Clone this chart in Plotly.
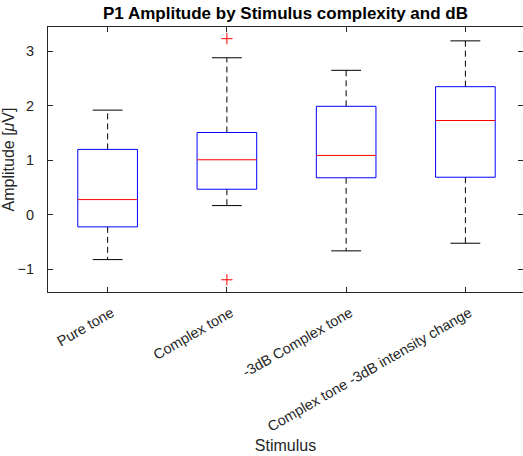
import plotly.graph_objects as go

categories = ["Pure tone", "Complex tone", "-3dB Complex tone", "Complex tone -3dB intensity change"]
q1 = [-0.22, 0.47, 0.68, 0.69]
median = [0.28, 1.01, 1.09, 1.73]
q3 = [1.20, 1.51, 1.99, 2.35]
lower_whisker = [-0.82, 0.17, -0.66, -0.52]
upper_whisker = [1.92, 2.88, 2.65, 3.19]
outliers = [[], [3.23, -1.19], [], []]

BOX_HALF = 0.25
CAP_HALF = 0.125
AX = "#262626"

fig = go.Figure()
for i, cat in enumerate(categories):
    x = i + 1
    # whiskers (dashed)
    fig.add_trace(go.Scatter(x=[x, x, None, x, x], y=[q3[i], upper_whisker[i], None, q1[i], lower_whisker[i]],
                             mode="lines", line=dict(color="black", width=1, dash="6px,4px"),
                             hoverinfo="skip", showlegend=False))
    # caps
    fig.add_trace(go.Scatter(x=[x - CAP_HALF, x + CAP_HALF, None, x - CAP_HALF, x + CAP_HALF],
                             y=[upper_whisker[i], upper_whisker[i], None, lower_whisker[i], lower_whisker[i]],
                             mode="lines", line=dict(color="black", width=1),
                             hoverinfo="skip", showlegend=False))
    # box
    fig.add_trace(go.Scatter(x=[x - BOX_HALF, x + BOX_HALF, x + BOX_HALF, x - BOX_HALF, x - BOX_HALF],
                             y=[q1[i], q1[i], q3[i], q3[i], q1[i]],
                             mode="lines", line=dict(color="#0000ff", width=1),
                             hoverinfo="skip", showlegend=False))
    # median
    fig.add_trace(go.Scatter(x=[x - BOX_HALF, x + BOX_HALF], y=[median[i], median[i]],
                             mode="lines", line=dict(color="#ff0000", width=1),
                             hoverinfo="skip", showlegend=False))
    if outliers[i]:
        fig.add_trace(go.Scatter(x=[x] * len(outliers[i]), y=outliers[i], mode="markers",
                                 marker=dict(symbol="cross-thin-open", size=8, color="#ff0000",
                                             line=dict(color="#ff0000", width=1)),
                                 showlegend=False))

fig.update_layout(
    width=523, height=456,
    margin=dict(l=48, r=0, t=27, b=164),
    paper_bgcolor="white", plot_bgcolor="white",
    font=dict(family="Liberation Sans, Arial, Helvetica", size=14, color=AX),
    title=dict(text="<b>P1 Amplitude by Stimulus complexity and dB</b>", x=0.5, xref="paper",
               xanchor="center", y=1 - 13 / 456, yanchor="middle",
               font=dict(size=17, color="black")),
    xaxis=dict(range=[0.5, 4.483], tickmode="array", tickvals=[1, 2, 3, 4], ticktext=categories,
               tickangle=-30, ticks="inside", ticklen=5, tickcolor=AX,
               ticklabelstandoff=6, ticklabelshift=4,
               showline=True, linecolor=AX, linewidth=1, mirror="ticks",
               showgrid=False, zeroline=False,
               title=dict(text="Stimulus", font=dict(size=16, color=AX), standoff=6),
               tickfont=dict(size=14.5, color=AX)),
    yaxis=dict(range=[-1.414, 3.444], tickvals=[-1, 0, 1, 2, 3], ticks="inside", ticklen=5,
               tickcolor=AX, showline=True, linecolor=AX, linewidth=1, mirror="ticks",
               ticklabelstandoff=10, ticksuffix=" ",
               showgrid=False, zeroline=False,
               title=dict(text="Amplitude [<i>μ</i>V]", font=dict(size=16, color=AX), standoff=3),
               tickfont=dict(size=14.5, color=AX)),
)

fig.write_html("out.html")
